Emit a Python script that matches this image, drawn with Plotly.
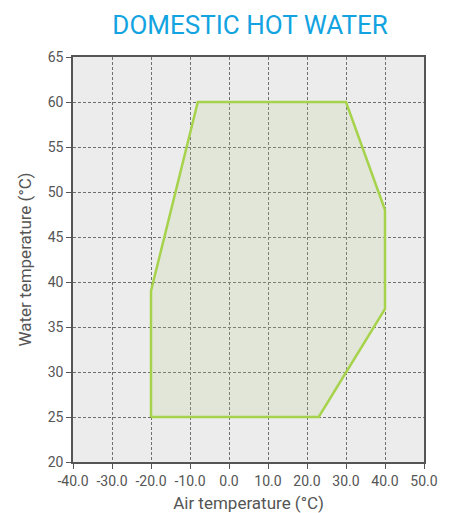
import plotly.graph_objects as go

# Operating envelope for domestic hot water production
air_temp = [-20, 23, 40, 40, 30, -8, -20, -20]
water_temp = [25, 25, 37, 48, 60, 60, 39, 25]

x_ticks = [-40, -30, -20, -10, 0, 10, 20, 30, 40, 50]
y_ticks = [20, 25, 30, 35, 40, 45, 50, 55, 60, 65]

fig = go.Figure()
fig.add_trace(go.Scatter(
    x=air_temp, y=water_temp, mode="lines",
    fill="toself", fillcolor="rgba(180,205,140,0.19)",
    line=dict(color="#a6d34b", width=2.5),
    hoverinfo="skip", showlegend=False,
))

axis_common = dict(
    showline=True, linecolor="#555555", linewidth=1.5, mirror=True,
    showgrid=True, gridcolor="#6f6f6f", gridwidth=1.2, griddash="3px,2px",
    ticks="outside", ticklen=5, tickcolor="#555555", tickwidth=1,
    zeroline=False, automargin=False,
    tickfont=dict(family="Roboto, sans-serif", size=14, color="#555555"),
)

fig.update_xaxes(
    range=[-40, 50], tickvals=x_ticks,
    ticktext=[f"{v:.1f}" for v in x_ticks],
    title=dict(text="Air temperature (°C)", standoff=11,
               font=dict(family="Roboto, sans-serif", size=17, color="#555555")),
    **axis_common,
)
fig.update_yaxes(
    range=[20, 65], tickvals=y_ticks,
    title=dict(text="Water temperature (°C)", standoff=12,
               font=dict(family="Roboto, sans-serif", size=17, color="#555555")),
    **axis_common,
)

fig.update_layout(
    width=449, height=513,
    margin=dict(l=73, r=25, t=57, b=51),
    paper_bgcolor="white", plot_bgcolor="#ececec",
    title=dict(text="DOMESTIC HOT WATER", x=0.557, xanchor="center",
               y=0.951, yanchor="middle",
               font=dict(family="Roboto, sans-serif", size=26, color="#12a3e0")),
)

fig.write_html("out.html")
